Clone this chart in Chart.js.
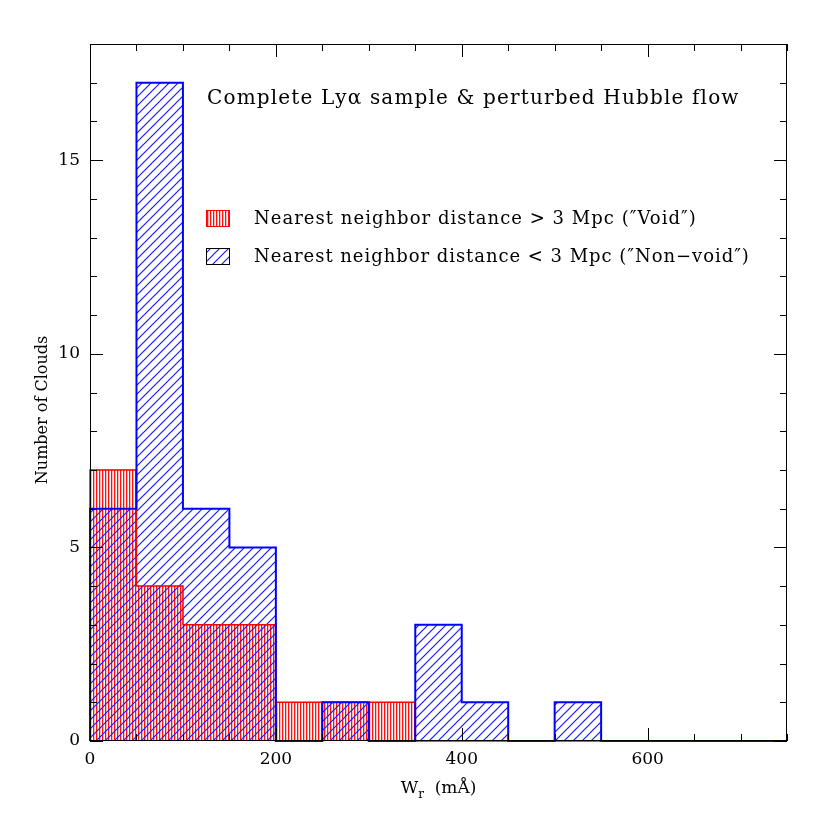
<!DOCTYPE html>
<html>
<head>
<meta charset="utf-8">
<title>Void vs non-void Lyα clouds</title>
<script src="https://cdn.jsdelivr.net/npm/chart.js@4.4.1/dist/chart.umd.min.js"></script>
<style>
  body { margin: 0; background: #fff; }
  #wrap { width: 830px; height: 830px; }
</style>
</head>
<body>
<div id="wrap"><canvas id="hist" width="830" height="830"></canvas></div>
<script>
// bins of 50 mÅ from 0 to 750
const binEdges = [0, 50, 100, 150, 200, 250, 300, 350, 400, 450, 500, 550, 600, 650, 700, 750];
const voidCounts = [7, 4, 3, 3, 1, 1, 1, 0, 0, 0, 0, 0, 0, 0, 0];
const nonVoidCounts = [6, 17, 6, 5, 0, 1, 0, 3, 1, 0, 1, 0, 0, 0, 0];
const xMajorTicks = [0, 200, 400, 600];
const yMajorTicks = [0, 5, 10, 15];

const titleText = "Complete Lyα sample & perturbed Hubble flow";
const voidLabel = "Nearest neighbor distance > 3 Mpc (\u2033Void\u2033)";
const nonVoidLabel = "Nearest neighbor distance < 3 Mpc (\u2033Non\u2212void\u2033)";

const FONT = "'DejaVu Serif', 'Liberation Serif', serif";

function binBars(counts) {
  return counts.map((c, i) => ({ x: (binEdges[i] + binEdges[i + 1]) / 2, y: c }));
}

// step outline: start on the baseline, then the left edge of each bin, then the last edge
function stepOutline(counts) {
  const pts = [{ x: binEdges[0], y: 0 }];
  counts.forEach((c, i) => pts.push({ x: binEdges[i], y: c }));
  pts.push({ x: binEdges[binEdges.length - 1], y: counts[counts.length - 1] });
  return pts;
}

function makeVerticalHatch() {
  const c = document.createElement("canvas");
  c.width = 3;
  c.height = 4;
  const g = c.getContext("2d");
  g.fillStyle = "#ffffff";
  g.fillRect(0, 0, 3, 4);
  g.fillStyle = "#ff1010";
  g.fillRect(0, 0, 1, 4);
  g.fillStyle = "#ffb4b4";
  g.fillRect(1, 0, 1, 4);
  return g.createPattern(c, "repeat");
}

function makeDiagonalHatch() {
  const s = 9;
  const c = document.createElement("canvas");
  c.width = s;
  c.height = s;
  const g = c.getContext("2d");
  g.strokeStyle = "#1a1aff";
  g.lineWidth = 1.2;
  g.beginPath();
  g.moveTo(0, s);
  g.lineTo(s, 0);
  g.moveTo(-1, 1);
  g.lineTo(1, -1);
  g.moveTo(s - 1, s + 1);
  g.lineTo(s + 1, s - 1);
  g.stroke();
  return g.createPattern(c, "repeat");
}

const redHatch = makeVerticalHatch();
const blueHatch = makeDiagonalHatch();

// write text stretched to the width it has in the original plot
function fitText(ctx, text, x, y, size, width) {
  ctx.font = size + "px " + FONT;
  ctx.letterSpacing = "0px";
  const w = ctx.measureText(text).width;
  ctx.letterSpacing = ((width - w) / text.length).toFixed(2) + "px";
  ctx.fillText(text, x, y);
  ctx.letterSpacing = "0px";
}

// frame, inward ticks on all four sides, texts and legend
const decorations = {
  id: "decorations",
  afterDraw(chart) {
    const { ctx, chartArea: a, scales } = chart;
    const xs = scales.x;
    const ys = scales.y;
    ctx.save();
    ctx.strokeStyle = "#000";
    ctx.lineWidth = 1;
    ctx.strokeRect(a.left + 0.5, a.top + 0.5, a.right - a.left - 1, a.bottom - a.top - 1);

    ctx.beginPath();
    for (let v = 0; v <= 750; v += 50) {
      const px = Math.round(xs.getPixelForValue(v)) + 0.5;
      const len = v % 200 === 0 ? 13 : 7;
      ctx.moveTo(px, a.bottom);
      ctx.lineTo(px, a.bottom - len);
      ctx.moveTo(px, a.top);
      ctx.lineTo(px, a.top + len);
    }
    for (let v = 0; v <= 18; v += 1) {
      const py = Math.round(ys.getPixelForValue(v)) + 0.5;
      const len = v % 5 === 0 ? 13 : 7;
      ctx.moveTo(a.left, py);
      ctx.lineTo(a.left + len, py);
      ctx.moveTo(a.right, py);
      ctx.lineTo(a.right - len, py);
    }
    ctx.stroke();

    ctx.fillStyle = "#000";
    ctx.textBaseline = "alphabetic";
    ctx.textAlign = "left";
    fitText(ctx, titleText, 207, 104, 20, 532);

    // legend
    ctx.fillStyle = redHatch;
    ctx.fillRect(206, 210, 24, 17);
    ctx.strokeStyle = "#ff0000";
    ctx.strokeRect(206.5, 210.5, 23, 16);
    ctx.fillStyle = "#fff";
    ctx.fillRect(206, 248, 24, 17);
    ctx.fillStyle = blueHatch;
    ctx.fillRect(206, 248, 24, 17);
    ctx.strokeStyle = "#000";
    ctx.strokeRect(206.5, 248.5, 23, 16);
    ctx.fillStyle = "#000";
    fitText(ctx, voidLabel, 254, 224, 18, 443);
    fitText(ctx, nonVoidLabel, 254, 262, 18, 496);

    // axis titles
    ctx.font = "17px " + FONT;
    const wW = ctx.measureText("W").width;
    ctx.font = "12px " + FONT;
    const rW = ctx.measureText("r").width;
    ctx.font = "17px " + FONT;
    const restW = ctx.measureText("  (mÅ)").width;
    const total = wW + rW + restW;
    const tx = (a.left + a.right) / 2 - total / 2;
    ctx.fillText("W", tx, 793);
    ctx.font = "12px " + FONT;
    ctx.fillText("r", tx + wW, 798);
    ctx.font = "17px " + FONT;
    ctx.fillText("  (mÅ)", tx + wW + rW, 793);

    ctx.translate(47, 410);
    ctx.rotate(-Math.PI / 2);
    ctx.textAlign = "center";
    ctx.font = "16px " + FONT;
    ctx.fillText("Number of Clouds", 0, 0);
    ctx.restore();
  },
};

Chart.defaults.font.family = FONT;
Chart.defaults.font.size = 17;
Chart.defaults.color = "#000";

new Chart(document.getElementById("hist"), {
  type: "bar",
  data: {
    datasets: [
      {
        label: "Void",
        data: binBars(voidCounts),
        backgroundColor: redHatch,
        borderWidth: 0,
        grouped: false,
        barPercentage: 1,
        categoryPercentage: 1,
        order: 4,
      },
      {
        label: "Non-void",
        data: binBars(nonVoidCounts),
        backgroundColor: blueHatch,
        borderWidth: 0,
        grouped: false,
        barPercentage: 1,
        categoryPercentage: 1,
        order: 3,
      },
      {
        type: "line",
        label: "Void outline",
        data: stepOutline(voidCounts),
        borderColor: "#ff0000",
        borderWidth: 1.5,
        stepped: true,
        pointRadius: 0,
        fill: false,
        clip: false,
        order: 2,
      },
      {
        type: "line",
        label: "Non-void outline",
        data: stepOutline(nonVoidCounts),
        borderColor: "#0000ff",
        borderWidth: 2,
        stepped: true,
        pointRadius: 0,
        fill: false,
        clip: false,
        order: 1,
      },
    ],
  },
  options: {
    responsive: false,
    animation: false,
    layout: { padding: { left: 0, top: 44, right: 43, bottom: 0 } },
    plugins: {
      legend: { display: false },
      tooltip: { enabled: false },
    },
    scales: {
      x: {
        type: "linear",
        min: 0,
        max: 750,
        offset: false,
        grid: { display: false, drawTicks: false, offset: false },
        border: { display: false },
        ticks: { stepSize: 50, padding: 8, maxRotation: 0 },
        afterBuildTicks: (scale) => {
          scale.ticks = scale.ticks.filter((t) => xMajorTicks.includes(t.value));
        },
        afterFit: (scale) => {
          scale.height = 89;
        },
      },
      y: {
        min: 0,
        max: 18,
        grid: { display: false, drawTicks: false },
        border: { display: false },
        ticks: { stepSize: 1, padding: 10 },
        afterBuildTicks: (scale) => {
          scale.ticks = scale.ticks.filter((t) => yMajorTicks.includes(t.value));
        },
        afterFit: (scale) => {
          scale.width = 90;
        },
      },
    },
  },
  plugins: [decorations],
});
</script>
</body>
</html>
